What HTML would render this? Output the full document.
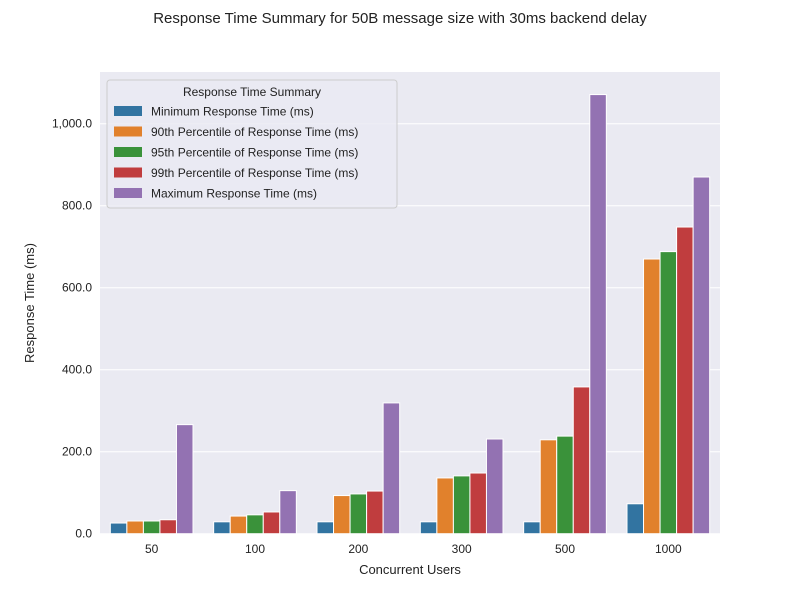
<!DOCTYPE html>
<html><head><meta charset="utf-8"><style>
body{margin:0;background:#fff;font-family:"Liberation Sans",sans-serif;}
</style></head><body>
<svg id="c" width="800" height="600" xmlns="http://www.w3.org/2000/svg" font-family="Liberation Sans, sans-serif">
<text x="400" y="23" font-size="15" text-anchor="middle" fill="#222">Response Time Summary for 50B message size with 30ms backend delay</text>
<rect x="100" y="72" width="620" height="462" fill="#eaeaf2"/>
<g id="grid"></g><g id="bars"></g><g id="ticks"></g>
<text x="410" y="574" font-size="13" text-anchor="middle" fill="#222">Concurrent Users</text>
<text transform="translate(34,303) rotate(-90)" font-size="13" text-anchor="middle" fill="#222">Response Time (ms)</text>
<g id="legend"></g>
</svg>
<script>
const categories=["50","100","200","300","500","1000"];
const seriesNames=["Minimum Response Time (ms)","90th Percentile of Response Time (ms)","95th Percentile of Response Time (ms)","99th Percentile of Response Time (ms)","Maximum Response Time (ms)"];
const minVals=[26,29,29,29,29,73];
const p90Vals=[31,43,93,136,229,670];
const p95Vals=[31,46,97,141,238,688];
const p99Vals=[34,53,104,148,358,748];
const maxVals=[266,105,319,231,1071,870];
const yTicks=[0,200,400,600,800,1000];
const yTickLabels=["0.0","200.0","400.0","600.0","800.0","1,000.0"];
const colors=["#3274a1","#e1812c","#3a923a","#c03d3e","#9372b2"];
const series=[minVals,p90Vals,p95Vals,p99Vals,maxVals];
const NS="http://www.w3.org/2000/svg";
const X0=100,W=620,Y0=533.7,PX=0.41;
const y=v=>Y0-v*PX;
const step=W/categories.length;
const xc=i=>X0+step*(i+0.5);
const bw=step*0.8/5;
function mk(tag,attrs,parent){const e=document.createElementNS(NS,tag);for(const k in attrs)e.setAttribute(k,attrs[k]);document.getElementById(parent)?.appendChild(e)||parent.appendChild&&parent.appendChild(e);return e;}
const grid=document.getElementById('grid'),ticks=document.getElementById('ticks'),bars=document.getElementById('bars');
yTicks.forEach((t,i)=>{
 const l=mk('line',{x1:X0,x2:X0+W,y1:y(t),y2:y(t),stroke:'#fff','stroke-width':1},grid);
 
 
 const tx=mk('text',{x:X0-8,y:y(t)+4,'font-size':12,'text-anchor':'end',fill:'#222'},ticks);
 tx.textContent=yTickLabels[i];
 
 
});
categories.forEach((c,i)=>{
 const tx=mk('text',{x:xc(i),y:553,'font-size':12,'text-anchor':'middle',fill:'#222'},ticks);
 tx.textContent=c;
 
 
 series.forEach((s,j)=>{
  const x=xc(i)-step*0.4+j*bw;
  const r=mk('rect',{x:x,y:y(s[i]),width:bw,height:Y0-y(s[i]),fill:colors[j],stroke:'#fff','stroke-width':1},bars);
  
  
 });
});
const lg=document.getElementById('legend');
const bx=mk('rect',{x:107,y:80,width:290,height:128,fill:'#eaeaf2',stroke:'#ccc',rx:3,'fill-opacity':0.8},lg);


const lt=mk('text',{x:252,y:96,'font-size':12,'text-anchor':'middle',fill:'#222'},lg);
lt.textContent='Response Time Summary';


seriesNames.forEach((n,j)=>{
 const yy=111+j*20.5;
 const sw=mk('rect',{x:114,y:yy-5,width:28,height:10,fill:colors[j]},lg);
 
 
 const t=mk('text',{x:151,y:yy+4.5,'font-size':12,fill:'#222'},lg);
 t.textContent=n;
 
 
});
</script>
</body></html>
